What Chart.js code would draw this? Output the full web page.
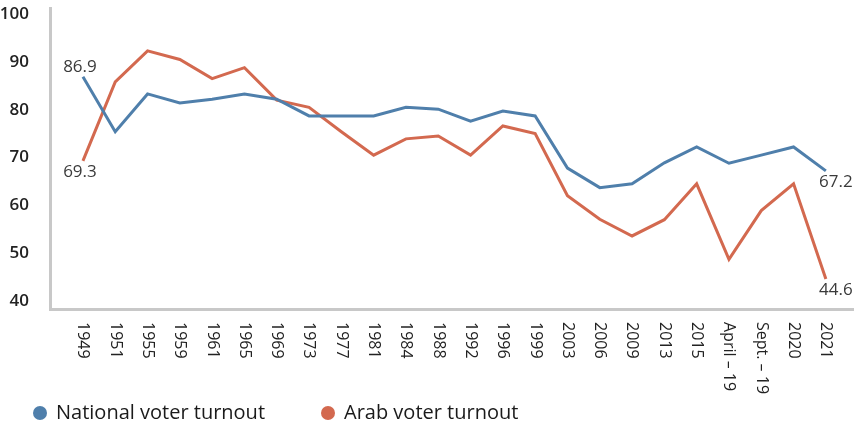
<!DOCTYPE html>
<html lang="en">
<head>
    <meta charset="UTF-8">
    <title>National and Arab voter turnout</title>
    <script src="https://cdn.jsdelivr.net/npm/chart.js"></script>
    <style>
        html, body {
            margin: 0;
            padding: 0;
            background: #ffffff;
        }
        canvas {
            display: block;
        }
    </style>
</head>
<body>
    <canvas id="turnoutChart" width="860" height="427"></canvas>
    <script>
        // Election labels (x axis)
        const elections = ['1949', '1951', '1955', '1959', '1961', '1965', '1969', '1973', '1977', '1981',
            '1984', '1988', '1992', '1996', '1999', '2003', '2006', '2009', '2013', '2015',
            'April – 19', 'Sept. – 19', '2020', '2021'];

        // Turnout in percent
        const nationalTurnout = [86.9, 75.4, 83.3, 81.4, 82.2, 83.3, 82.2, 78.7, 78.7, 78.7,
            80.5, 80.1, 77.6, 79.7, 78.7, 67.8, 63.7, 64.5, 68.9, 72.2,
            68.8, 70.5, 72.2, 67.2];
        const arabTurnout = [69.3, 85.8, 92.3, 90.5, 86.5, 88.8, 82.0, 80.5, 75.4, 70.5,
            73.9, 74.5, 70.5, 76.6, 75.0, 62.0, 57.1, 53.6, 57.0, 64.5,
            48.7, 58.9, 64.5, 44.6];

        const yTicks = [40, 50, 60, 70, 80, 90, 100];

        const blue = '#4f7fab';
        const red = '#d3694f';
        const fontFamily = '"Open Sans", "DejaVu Sans", sans-serif';

        // Rotated category labels, reading top to bottom
        const xLabelsPlugin = {
            id: 'xLabels',
            afterDraw(chart) {
                const ctx = chart.ctx;
                const xScale = chart.scales.x;
                ctx.save();
                ctx.font = '16px ' + fontFamily;
                ctx.fillStyle = '#222222';
                ctx.textAlign = 'left';
                ctx.textBaseline = 'middle';
                elections.forEach((label, i) => {
                    ctx.save();
                    ctx.translate(xScale.getPixelForValue(i), chart.chartArea.bottom + 13);
                    ctx.rotate(Math.PI / 2);
                    ctx.fillText(label, 0, 0);
                    ctx.restore();
                });
                ctx.restore();
            }
        };

        // Values at first and last point of each line
        const endLabelsPlugin = {
            id: 'endLabels',
            afterDatasetsDraw(chart) {
                const ctx = chart.ctx;
                ctx.save();
                ctx.font = '17px ' + fontFamily;
                ctx.fillStyle = '#3a3a3a';
                ctx.textAlign = 'center';
                ctx.textBaseline = 'middle';
                const place = [
                    { ds: 0, idx: 0, dx: -3, dy: -10 },
                    { ds: 1, idx: 0, dx: -3, dy: 11 },
                    { ds: 0, idx: elections.length - 1, dx: 10, dy: 11 },
                    { ds: 1, idx: elections.length - 1, dx: 10, dy: 11 }
                ];
                place.forEach(p => {
                    const pt = chart.getDatasetMeta(p.ds).data[p.idx];
                    const value = chart.data.datasets[p.ds].data[p.idx].y;
                    ctx.fillText(value.toFixed(1), pt.x + p.dx, pt.y + p.dy);
                });
                ctx.restore();
            }
        };

        // Legend with round markers at the bottom left
        const legendPlugin = {
            id: 'bottomLegend',
            afterDraw(chart) {
                const ctx = chart.ctx;
                const items = [
                    { ds: 0, x: 40 },
                    { ds: 1, x: 328 }
                ];
                const y = 413;
                ctx.save();
                ctx.font = '20px ' + fontFamily;
                ctx.textAlign = 'left';
                ctx.textBaseline = 'middle';
                items.forEach(item => {
                    const ds = chart.data.datasets[item.ds];
                    ctx.fillStyle = ds.borderColor;
                    ctx.beginPath();
                    ctx.arc(item.x, y, 7, 0, Math.PI * 2);
                    ctx.fill();
                    ctx.fillStyle = '#1a1a1a';
                    ctx.fillText(ds.label, item.x + 16, y);
                });
                ctx.restore();
            }
        };

        const turnoutChart = new Chart(document.getElementById('turnoutChart').getContext('2d'), {
            type: 'line',
            data: {
                datasets: [{
                    label: 'National voter turnout',
                    data: nationalTurnout.map((v, i) => ({ x: i, y: v })),
                    borderColor: blue,
                    backgroundColor: blue,
                    borderWidth: 3,
                    pointRadius: 0,
                    tension: 0,
                    fill: false
                }, {
                    label: 'Arab voter turnout',
                    data: arabTurnout.map((v, i) => ({ x: i, y: v })),
                    borderColor: red,
                    backgroundColor: red,
                    borderWidth: 3,
                    pointRadius: 0,
                    tension: 0,
                    fill: false
                }]
            },
            options: {
                responsive: false,
                animation: false,
                devicePixelRatio: 1,
                layout: {
                    padding: { top: 8, right: 7, left: 0, bottom: 0 }
                },
                plugins: {
                    legend: { display: false },
                    tooltip: { enabled: false }
                },
                scales: {
                    x: {
                        type: 'linear',
                        min: -1.02,
                        max: 23.84,
                        grid: { display: false },
                        border: { display: true, color: '#c8c8c8', width: 3 },
                        ticks: { display: false },
                        afterFit(scale) {
                            scale.height = 118;
                            scale.paddingLeft = 0;
                            scale.paddingRight = 0;
                        }
                    },
                    y: {
                        min: 38.33,
                        max: 101.26,
                        grid: { display: false },
                        border: { display: true, color: '#c8c8c8', width: 3 },
                        afterBuildTicks(scale) {
                            scale.ticks = yTicks.map(v => ({ value: v }));
                        },
                        ticks: {
                            padding: 13,
                            color: '#222222',
                            font: { family: fontFamily, size: 17, weight: '600' }
                        },
                        afterFit(scale) {
                            scale.width = 50;
                            scale.paddingTop = 0;
                            scale.paddingBottom = 0;
                        }
                    }
                }
            },
            plugins: [xLabelsPlugin, endLabelsPlugin, legendPlugin]
        });
    </script>
</body>
</html>
